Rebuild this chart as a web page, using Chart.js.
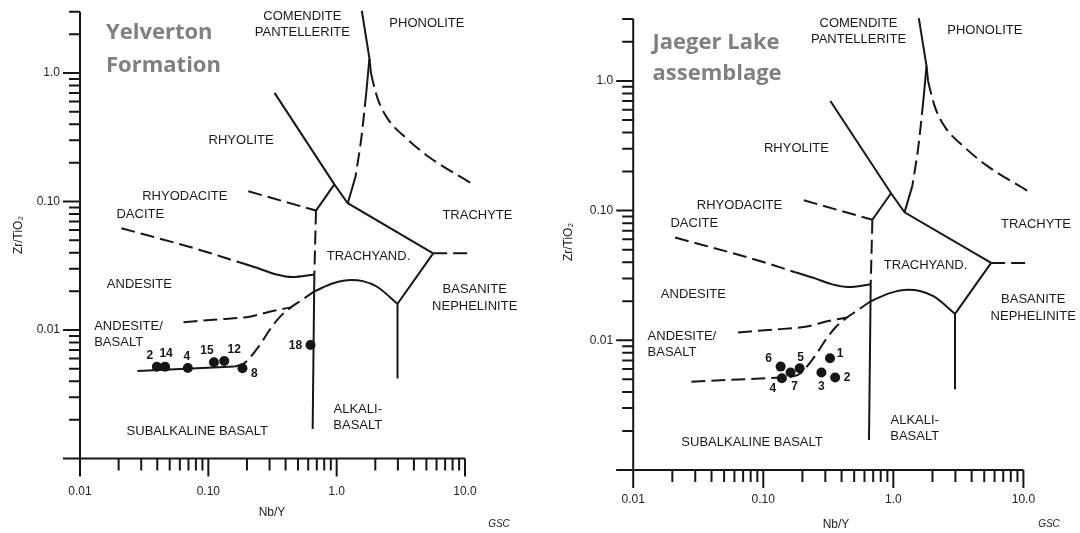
<!DOCTYPE html>
<html>
<head>
<meta charset="utf-8">
<script src="https://cdn.jsdelivr.net/npm/chart.js@4.4.0/dist/chart.umd.min.js"></script>
<style>
  html, body { margin: 0; padding: 0; background: #fff; }
  .panel { position: absolute; top: 0; width: 540px; height: 533px; }
</style>
</head>
<body>
<div class="panel" style="left:0"><canvas id="left" width="540" height="533"></canvas></div>
<div class="panel" style="left:540px"><canvas id="right" width="540" height="533"></canvas></div>
<script>
// Axis ranges and ticks (log-log, Nb/Y vs Zr/TiO2)
const xMin = 0.01, xMax = 10, yMin = 0.001, yMax = 3;
const xMajorTicks = [0.01, 0.1, 1, 10];
const xTickLabels = ['0.01', '0.10', '1.0', '10.0'];
const yMajorTicks = [0.001, 0.01, 0.1, 1];
const yTickLabels = ['', '0.01', '0.10', '1.0'];
const minorSteps = [2, 3, 4, 5, 6, 7, 8, 9];

// Samples - Yelverton Formation
const yelvertonIds = ['2', '14', '4', '15', '12', '8', '18'];
const yelvertonNbY = [0.0397, 0.0460, 0.0692, 0.1106, 0.133, 0.1844, 0.625];
const yelvertonZrTi = [0.00518, 0.00518, 0.00506, 0.00561, 0.00574, 0.00504, 0.00764];

// Samples - Jaeger Lake assemblage
const jaegerIds = ['1', '2', '3', '4', '5', '6', '7'];
const jaegerNbY = [0.326, 0.357, 0.280, 0.139, 0.1905, 0.136, 0.162];
const jaegerZrTi = [0.00728, 0.00516, 0.00564, 0.00510, 0.00609, 0.00627, 0.00564];

// Field boundaries (Winchester & Floyd), [Nb/Y, Zr/TiO2]
const comenditePhonolite = [[1.57, 3.05], [1.8, 1.3]];
const peakDownSolid = [[1.8, 1.3], [1.70, 0.70]];
const peakDownDash = [[1.70, 0.70], [1.55, 0.30], [1.40, 0.155]];
const peakDownLow = [[1.40, 0.155], [1.22, 0.097]];
const phonoliteSolid = [[1.8, 1.3], [1.85, 1.0]];
const phonoliteDash = [[1.85, 1.0], [1.92, 0.85], [2.1, 0.62], [2.5, 0.44], [3.5, 0.31], [5.3, 0.22], [11, 0.14]];
const rhyoliteLine = [[0.328, 0.70], [0.96, 0.136], [1.22, 0.097], [5.65, 0.0395]];
const rhyoliteBranch = [[0.96, 0.136], [0.69, 0.085]];
const rhyodaciteDash = [[0.205, 0.120], [0.69, 0.085]];
const trachyteDash = [[5.65, 0.0395], [10.6, 0.0395]];
const trachyandRight = [[5.65, 0.0395], [2.98, 0.016]];
const basaniteLine = [[2.98, 0.016], [2.98, 0.0042]];
const alkaliDash = [[0.69, 0.085], [0.67, 0.027]];
const alkaliLine = [[0.67, 0.027], [0.65, 0.0017]];
const daciteDash = [[0.021, 0.062], [0.086, 0.042], [0.176, 0.0335]];
const daciteLine = [[0.176, 0.0335], [0.25, 0.030], [0.34, 0.027], [0.45, 0.0258], [0.67, 0.027]];
const trachyandBase = [[0.67, 0.020], [0.94, 0.0231], [1.3, 0.0245], [1.6, 0.024], [2.05, 0.0218], [2.98, 0.016]];
const basaltLine = [[0.028, 0.0048], [0.16, 0.0052]];
const basaltCurve = [[0.16, 0.0052], [0.19, 0.0055], [0.236, 0.0070], [0.27, 0.0085], [0.30, 0.0100], [0.36, 0.0126], [0.44, 0.0150], [0.52, 0.0168], [0.67, 0.020]];
const andesiteBasaltDash = [[0.064, 0.0115], [0.12, 0.0121], [0.21, 0.0127], [0.31, 0.0140], [0.44, 0.0150]];

// Field names
const regionNames = ['COMENDITE', 'PANTELLERITE', 'PHONOLITE', 'RHYOLITE', 'RHYODACITE', 'DACITE', 'TRACHYTE',
  'TRACHYAND.', 'ANDESITE', 'ANDESITE/', 'BASALT', 'BASANITE', 'NEPHELINITE', 'ALKALI-', 'BASALT', 'SUBALKALINE BASALT'];
const regionNbY = [0.54, 0.54, 5.05, 0.180, 0.0656, 0.0295, 12.5, 1.77, 0.029, 0.0129, 0.0129, 11.9, 11.9, 1.46, 1.46, 0.082];
const regionZrTi = [2.76, 2.07, 2.45, 0.30, 0.110, 0.079, 0.078, 0.0375, 0.0226, 0.0107, 0.0080, 0.0207, 0.0153, 0.0024, 0.00181, 0.00163];

const INK = '#161616';
const FONT = '"Liberation Sans", Arial, Helvetica, sans-serif';
const DASH = [14, 6];

function seg(points, dashed, smooth) {
  return {
    data: points.map(([x, y]) => ({ x, y })),
    borderColor: INK,
    borderWidth: 2,
    borderDash: dashed ? DASH : [],
    pointRadius: 0,
    pointHoverRadius: 0,
    fill: false,
    clip: false,
    tension: smooth ? 0.3 : 0,
    cubicInterpolationMode: smooth === 'mono' ? 'monotone' : 'default'
  };
}

function boundaryDatasets(solidBasalt) {
  return [
    seg(comenditePhonolite, false),
    seg(peakDownSolid, false),
    seg(peakDownDash, true, true),
    seg(peakDownLow, false),
    seg(phonoliteSolid, false),
    seg(phonoliteDash, true, 'mono'),
    seg(rhyoliteLine, false),
    seg(rhyoliteBranch, false),
    seg(rhyodaciteDash, true),
    seg(trachyteDash, true),
    seg(trachyandRight, false),
    seg(basaniteLine, false),
    seg(alkaliDash, true),
    seg(alkaliLine, false),
    seg(daciteDash, true, 'mono'),
    seg(daciteLine, false, 'mono'),
    seg(trachyandBase, false, 'mono'),
    seg(basaltLine, !solidBasalt),
    seg(basaltCurve, true, 'mono'),
    seg(andesiteBasaltDash, true, 'mono')
  ];
}

const panels = [
  {
    canvas: 'left', title: ['Yelverton', 'Formation'], titleX: 106, titleY: [39, 71.5],
    padding: { left: 80, right: 75, top: 11.7, bottom: 74.5 },
    ids: yelvertonIds, nb: yelvertonNbY, zr: yelvertonZrTi,
    labelOffsets: [[-7, -11], [1, -13], [-1, -11], [-7, -12], [10, -11], [12, 5], [-15, 1]],
    solidBasalt: true, tickLabelDy: 33, xTitle: [272, 513], yTitle: [19, 235], gsc: [499, 524]
  },
  {
    canvas: 'right', title: ['Jaeger Lake', 'assemblage'], titleX: 112.5, titleY: [49, 80],
    padding: { left: 93.2, right: 56.6, top: 19, bottom: 63 },
    ids: jaegerIds, nb: jaegerNbY, zr: jaegerZrTi,
    labelOffsets: [[10, -4], [12, 0], [0, 14], [-9, 10], [1, -11], [-12, -8], [4, 14]],
    solidBasalt: false, tickLabelDy: 30, xTitle: [296, 525], yTitle: [29, 242], gsc: [509, 524]
  }
];

function makeDecorPlugin(p) {
  return {
    id: 'decor',
    afterDatasetsDraw(chart) {
      const ctx = chart.ctx, xs = chart.scales.x, ys = chart.scales.y;
      const x0 = xs.getPixelForValue(xMin), x1 = xs.getPixelForValue(xMax);
      const y0 = ys.getPixelForValue(yMin), y1 = ys.getPixelForValue(yMax);
      ctx.save();
      ctx.strokeStyle = INK;
      ctx.lineWidth = 2;
      ctx.setLineDash([]);
      ctx.beginPath();
      ctx.moveTo(x0, y1); ctx.lineTo(x0, y0);
      ctx.moveTo(x0, y0); ctx.lineTo(x1, y0);
      // y ticks
      const yMinor = [];
      [0.001, 0.01, 0.1].forEach(d => minorSteps.forEach(s => yMinor.push(s * d)));
      yMinor.push(2, 3);
      yMajorTicks.forEach(v => { const p = ys.getPixelForValue(v); ctx.moveTo(x0 - 17, p); ctx.lineTo(x0, p); });
      yMinor.forEach(v => { const p = ys.getPixelForValue(v); ctx.moveTo(x0 - 11, p); ctx.lineTo(x0, p); });
      // x ticks
      const xMinor = [];
      [0.01, 0.1, 1].forEach(d => minorSteps.forEach(s => xMinor.push(s * d)));
      xMajorTicks.forEach(v => { const p = xs.getPixelForValue(v); ctx.moveTo(p, y0); ctx.lineTo(p, y0 + 18); });
      xMinor.forEach(v => { const p = xs.getPixelForValue(v); ctx.moveTo(p, y0); ctx.lineTo(p, y0 + 12); });
      ctx.stroke();

      // tick labels
      ctx.fillStyle = '#222';
      ctx.font = '12px ' + FONT;
      ctx.textAlign = 'center';
      ctx.textBaseline = 'middle';
      xMajorTicks.forEach((v, i) => ctx.fillText(xTickLabels[i], xs.getPixelForValue(v), y0 + p.tickLabelDy));
      ctx.textAlign = 'right';
      yMajorTicks.forEach((v, i) => { if (yTickLabels[i]) ctx.fillText(yTickLabels[i], x0 - 20, ys.getPixelForValue(v)); });

      // axis titles
      ctx.textAlign = 'center';
      ctx.fillText('Nb/Y', p.xTitle[0], p.xTitle[1]);
      ctx.save();
      ctx.translate(p.yTitle[0], p.yTitle[1]);
      ctx.rotate(-Math.PI / 2);
      ctx.fillText('Zr/TiO\u2082', 0, 0);
      ctx.restore();
      ctx.font = 'italic 10px ' + FONT;
      ctx.fillText('GSC', p.gsc[0], p.gsc[1]);

      // field names
      ctx.fillStyle = '#1a1a1a';
      ctx.font = '13px ' + FONT;
      regionNames.forEach((name, i) => {
        const left = name === 'ANDESITE/' || (name === 'BASALT' && regionNbY[i] < 0.02);
        ctx.textAlign = left ? 'left' : 'center';
        ctx.fillText(name, xs.getPixelForValue(regionNbY[i]), ys.getPixelForValue(regionZrTi[i]));
      });

      // sample numbers
      const meta = chart.getDatasetMeta(chart.data.datasets.length - 1);
      ctx.font = 'bold 12px ' + FONT;
      ctx.textAlign = 'center';
      ctx.fillStyle = INK;
      meta.data.forEach((pt, i) => {
        const off = p.labelOffsets[i];
        ctx.fillText(p.ids[i], pt.x + off[0], pt.y + off[1]);
      });

      // panel title
      ctx.fillStyle = '#808080';
      ctx.font = 'bold 22px "Open Sans", Lato, sans-serif';
      ctx.textAlign = 'left';
      ctx.textBaseline = 'alphabetic';
      ctx.fillText(p.title[0], p.titleX, p.titleY[0]);
      ctx.fillText(p.title[1], p.titleX, p.titleY[1]);
      ctx.restore();
    }
  };
}

panels.forEach(p => {
  const datasets = boundaryDatasets(p.solidBasalt);
  datasets.push({
    data: p.nb.map((x, i) => ({ x, y: p.zr[i] })),
    showLine: false,
    pointRadius: 5,
    pointHoverRadius: 5,
    pointBackgroundColor: INK,
    pointBorderWidth: 0,
    borderColor: INK
  });
  new Chart(document.getElementById(p.canvas).getContext('2d'), {
    type: 'line',
    data: { datasets },
    options: {
      responsive: false,
      animation: false,
      layout: { padding: p.padding },
      scales: {
        x: { type: 'logarithmic', min: xMin, max: xMax, display: false },
        y: { type: 'logarithmic', min: yMin, max: yMax, display: false }
      },
      plugins: { legend: { display: false }, tooltip: { enabled: false } },
      events: []
    },
    plugins: [makeDecorPlugin(p)]
  });
});
</script>
</body>
</html>
